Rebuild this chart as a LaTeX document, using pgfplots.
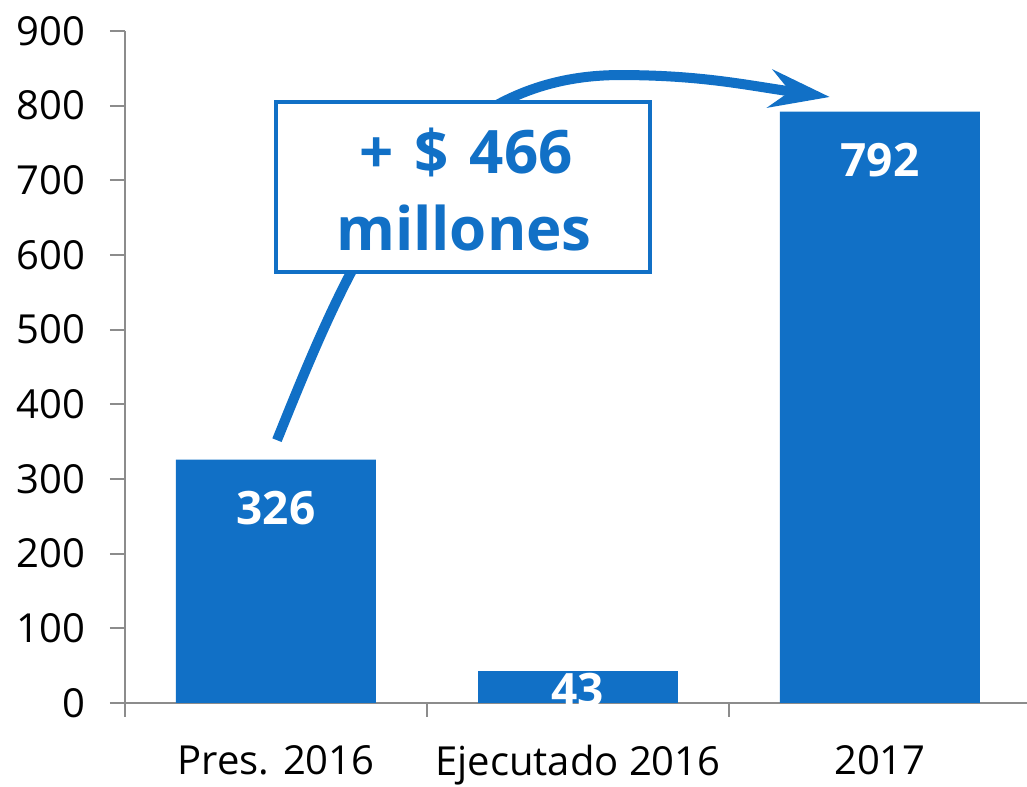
\documentclass[border=0pt]{standalone}
\usepackage{fontspec}
\setmainfont{Open Sans}
\usepackage{pgfplots}
\pgfplotsset{compat=1.18}
\usetikzlibrary{arrows.meta}
\definecolor{barblue}{RGB}{17,112,198}
\definecolor{axgray}{RGB}{140,140,140}
\begin{document}
\begin{tikzpicture}
\begin{axis}[
  scale only axis, width=451pt, height=336pt,
  xmin=-0.5, xmax=2.487, ymin=0, ymax=900,
  axis x line*=bottom, axis y line*=left,
  axis line style={axgray, line width=1pt},
  xtick={0,1,2}, xticklabels={Pres. 2016, Ejecutado 2016, 2017},
  minor xtick={-0.5,0.5,1.5},
  major x tick style={draw=none},
  minor x tick style={axgray, line width=1pt},
  ytick={0,100,...,900},
  tick align=outside, major tick length=7.5pt, minor tick length=7pt,
  tick style={axgray, line width=1pt},
  tick label style={font=\fontsize{20}{24}\selectfont, text=black},
  x tick label style={yshift=-10pt},
  y tick label style={xshift=-9pt},
  /pgf/number format/assume math mode=true,
  ybar, bar width=100pt, bar shift=0pt,
  clip mode=global,
  nodes near coords,
  every node near coord/.append style={font=\fontsize{23}{27}\selectfont\bfseries, text=white, anchor=center},
]
\addplot[fill=barblue, draw=none, every node near coord/.append style={yshift=-24pt}] coordinates {(0,326) (2,792)};
\addplot[fill=barblue, draw=none, every node near coord/.append style={yshift=-9.5pt}] coordinates {(1,43)};
\draw[barblue, line width=5pt, -{Stealth[length=30pt, width=19pt, inset=10pt]}]
  (axis cs:0.0033,352) to[out=68,in=180] (axis cs:1.139,841) to[out=0,in=172] (axis cs:1.834,811.6);
\node[draw=barblue, line width=2pt, fill=white, minimum width=187pt, minimum height=85pt, inner sep=0pt] at (axis cs:0.619,691) {};
\node[text=barblue, font=\fontsize{30}{36}\selectfont\bfseries] at (axis cs:0.629,737.9) {+\hspace{0.35em}\$\hspace{0.35em}466};
\node[text=barblue, font=\fontsize{30}{36}\selectfont\bfseries] at (axis cs:0.6225,636.1) {millones};
\end{axis}
\pgfresetboundingbox
\path ([shift={(-62.5pt,-42pt)}]current axis.south west) rectangle ([shift={(0pt,15.5pt)}]current axis.north east);
\end{tikzpicture}
\end{document}
